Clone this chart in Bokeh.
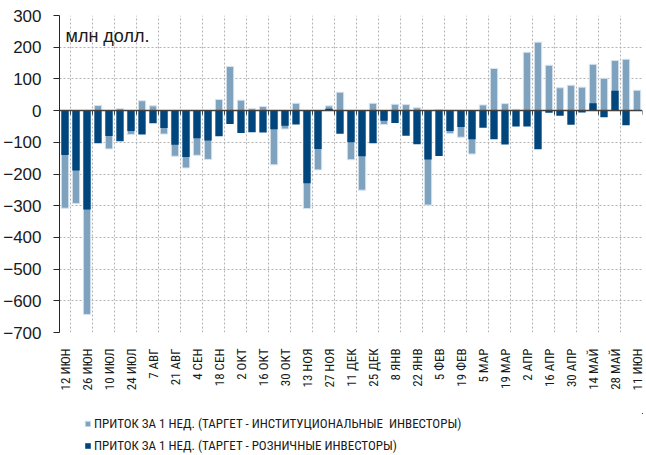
from bokeh.plotting import figure
from bokeh.models import (Range1d, FixedTicker, Span, Label, Legend, LegendItem,
                          ColumnDataSource)
from bokeh.layouts import column
from bokeh.embed import file_html
from bokeh.resources import INLINE

# ---- data (млн долл.) ----
week_labels = ["12 ИЮН", "26 ИЮН", "10 ИЮЛ", "24 ИЮЛ", "7 АВГ", "21 АВГ", "4 СЕН",
               "18 СЕН", "2 ОКТ", "16 ОКТ", "30 ОКТ", "13 НОЯ", "27 НОЯ", "11 ДЕК",
               "25 ДЕК", "8 ЯНВ", "22 ЯНВ", "5 ФЕВ", "19 ФЕВ", "5 МАР", "19 МАР",
               "2 АПР", "16 АПР", "30 АПР", "14 МАЙ", "28 МАЙ", "11 ИЮН"]

institutional = [-308, -293, -643, 16, -121, 6, -75, 31, 15, -74, -144, -181, -141,
                 -154, 35, 139, 33, 6, 13, -171, -58, 23, -309, -187, 15, 58, -155,
                 -251, 23, -44, 20, 19, 9, -298, 3, -72, -84, -137, 18, 133, 22, 4,
                 184, 216, 143, 72, 80, 74, 146, 102, 158, 162, 64]

retail = [-140, -189, -312, -103, -80, -97, -64, -75, -40, -55, -108, -146, -87,
          -94, -81, -42, -71, -68, -69, -59, -48, -44, -229, -121, 6, -73, -100,
          -144, -103, -32, -39, -79, -106, -154, -143, -64, -52, -90, -54, -90, -107,
          -50, -50, -122, -7, -16, -45, -6, 23, -21, 63, -46, 0]

legend_labels = ["ПРИТОК ЗА 1 НЕД. (ТАРГЕТ - ИНСТИТУЦИОНАЛЬНЫЕ  ИНВЕСТОРЫ)",
                 "ПРИТОК ЗА 1 НЕД. (ТАРГЕТ - РОЗНИЧНЫЕ ИНВЕСТОРЫ)"]
unit_label = "млн долл."

LIGHT = "#7fa3bf"
LIGHT_EDGE = "#d8e3ee"
DARK = "#00457c"
NARROW = "Liberation Sans Narrow, Roboto Condensed, Noto Sans Condensed, DejaVu Sans Condensed"
REG = "Liberation Sans"

n = len(institutional)
xs = list(range(n))
src = ColumnDataSource(dict(x=xs, inst=institutional, ret=retail))

p = figure(width=646, height=413, output_backend="svg", toolbar_location=None,
           x_range=Range1d(-0.5, n - 0.5), y_range=Range1d(-700, 300),
           min_border_left=59, min_border_right=4, min_border_top=15,
           min_border_bottom=81)
p.outline_line_color = None

r1 = p.vbar(x="x", top="inst", bottom=0, width=0.67, source=src,
            fill_color=LIGHT, line_color=LIGHT_EDGE, line_width=1)
r2 = p.vbar(x="x", top="ret", bottom=0, width=0.67, source=src,
            fill_color=DARK, line_color=None)

# zero axis line and its ticks
p.add_layout(Span(location=0, dimension="width", line_color="#404040", line_width=1.5))
bounds = [i + 0.5 for i in range(0, n, 2)]
p.segment(x0=bounds, x1=bounds, y0=[0] * len(bounds), y1=[-13] * len(bounds),
          line_color="#404040", line_width=1)

# y axis
yax = p.yaxis[0]
yax.ticker = FixedTicker(ticks=list(range(-700, 301, 100)))
yax.axis_line_color = "#262626"
yax.major_tick_line_color = "#262626"
yax.major_tick_out = 6
yax.major_tick_in = 0
yax.minor_tick_line_color = None
yax.major_label_text_font = REG
yax.major_label_text_font_size = "17px"
yax.major_label_text_color = "#1a1a1a"
yax.major_label_standoff = 12

# x axis
xax = p.xaxis[0]
tick_pos = list(range(0, n, 2))
xax.ticker = FixedTicker(ticks=tick_pos)
xax.major_label_overrides = {t: lab for t, lab in zip(tick_pos, week_labels)}
xax.major_label_orientation = 3.14159265 / 2
xax.axis_line_color = None
xax.major_tick_line_color = None
xax.minor_tick_line_color = None
xax.major_label_text_font = NARROW
xax.major_label_text_font_size = "13px"
xax.major_label_text_color = "#1a1a1a"
xax.major_label_standoff = 10

# grids
p.xgrid.ticker = FixedTicker(ticks=bounds)
for g in (p.xgrid[0], p.ygrid[0]):
    g.grid_line_color = "#b3b3b3"
    g.grid_line_dash = "2 2"
    g.grid_line_width = 1

p.add_layout(Label(x=6, y=297, x_units="screen", y_units="screen", text=unit_label,
                   text_font=REG, text_font_size="18px", text_color="#1a1a1a",
                   text_baseline="middle"))

# legend strip below the chart (its bars lie outside its visible range)
p2 = figure(width=646, height=42, output_backend="svg", toolbar_location=None,
            x_range=Range1d(-1000, -999), y_range=Range1d(-1000, -999),
            x_axis_location=None, y_axis_location=None,
            min_border_left=0, min_border_right=0, min_border_top=0,
            min_border_bottom=0)
p2.grid.visible = False
p2.outline_line_color = None
g1 = p2.vbar(x="x", top="inst", width=0.67, source=src,
             fill_color=LIGHT, line_color=LIGHT_EDGE)
g2 = p2.vbar(x="x", top="ret", width=0.67, source=src,
             fill_color=DARK, line_color=None)
legend = Legend(items=[LegendItem(label=legend_labels[0], renderers=[g1]),
                       LegendItem(label=legend_labels[1], renderers=[g2])],
                location=(25, 0), orientation="vertical",
                glyph_width=7, glyph_height=7, label_height=20, spacing=2,
                padding=0, margin=0, label_standoff=3,
                label_text_font=NARROW, label_text_font_size="13px",
                label_text_color="#1a1a1a", border_line_color=None,
                background_fill_alpha=0)
p2.add_layout(legend, "center")

open("out.html", "w").write(file_html(column(p, p2, spacing=0), INLINE))
